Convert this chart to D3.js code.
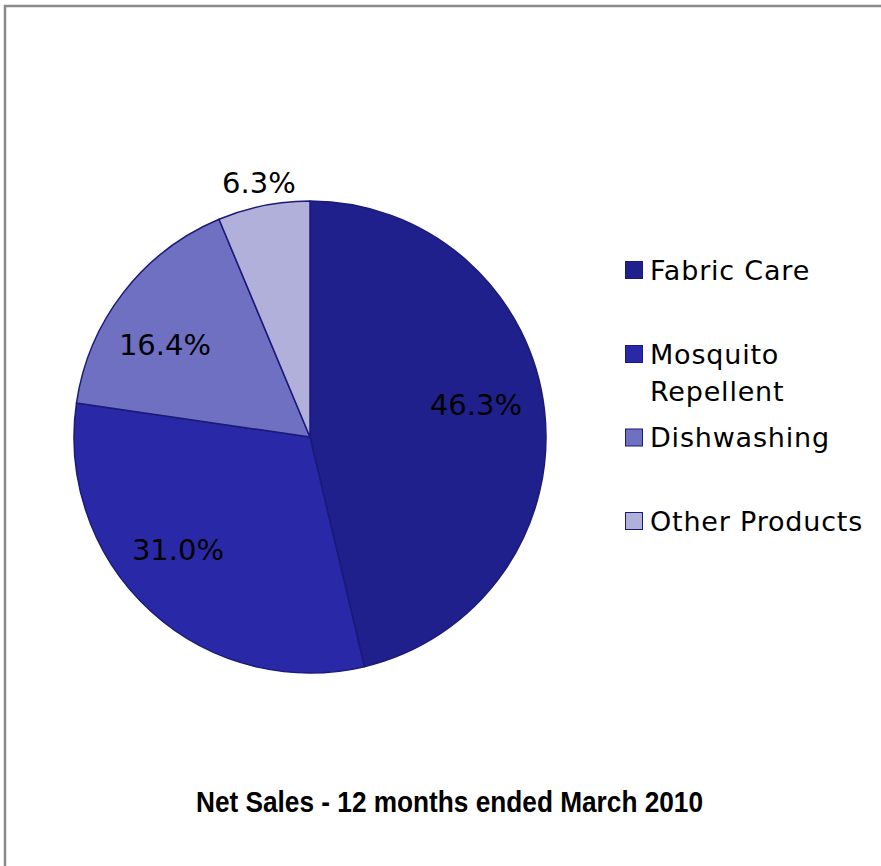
<!DOCTYPE html>
<html>
<head>
<meta charset="utf-8">
<script src="https://cdn.jsdelivr.net/npm/d3@7"></script>
<style>
  html, body { margin: 0; padding: 0; background: #fff; }
  svg { display: block; }
</style>
</head>
<body>
<svg id="chart" width="881" height="866"></svg>
<script>
// Net sales split by product category
const categories = ["Fabric Care", "Mosquito Repellent", "Dishwashing", "Other Products"];
const shares = [46.3, 31.0, 16.4, 6.3];
const legendLines = [["Fabric Care"], ["Mosquito", "Repellent"], ["Dishwashing"], ["Other Products"]];
const colors = ["#20208c", "#2929a8", "#7070c2", "#b0b0da"];
const title = "Net Sales - 12 months ended March 2010";

const svg = d3.select("#chart");

// frame
svg.append("path")
  .attr("d", "M5,866 V6 H881")
  .attr("fill", "none")
  .attr("stroke", "#8a8a8a")
  .attr("stroke-width", 2.5);

const cx = 310, cy = 437, r = 236;
const g = svg.append("g").attr("transform", `translate(${cx},${cy})`);

const data = categories.map((c, i) => ({ name: c, value: shares[i], color: colors[i] }));
const pie = d3.pie().value(d => d.value).sort(null);
const arc = d3.arc().innerRadius(0).outerRadius(r);
const arcs = pie(data);

g.selectAll("path.slice")
  .data(arcs)
  .join("path")
  .attr("class", "slice")
  .attr("d", arc)
  .attr("fill", d => d.data.color)
  .attr("stroke", "#1a1a78")
  .attr("stroke-width", 1.5)
  .attr("stroke-linejoin", "round");

// percentage labels: inside for large slices, outside for the smallest
const labelRadius = [0.716, 0.737, 0.728, 1.10];
const labelTurn = [-4.2, 6.9, -5.4, 0]; // degrees off the slice's mid angle
g.selectAll("text.pct")
  .data(arcs)
  .join("text")
  .attr("class", "pct")
  .attr("transform", (d, i) => {
    const a = (d.startAngle + d.endAngle) / 2 + labelTurn[i] * Math.PI / 180;
    const rr = r * labelRadius[i];
    return `translate(${Math.sin(a) * rr},${-Math.cos(a) * rr})`;
  })
  .attr("text-anchor", "middle")
  .attr("dy", "0.35em")
  .attr("font-family", "DejaVu Sans, sans-serif")
  .attr("font-size", 29)
  .attr("fill", "#000")
  .text(d => d.data.value.toFixed(1) + "%");

// legend
const legendY = [270, 354, 437.5, 521];
const legend = svg.append("g");
data.forEach((d, i) => {
  const y = legendY[i];
  legend.append("rect")
    .attr("x", 625.5).attr("y", y - 8.5)
    .attr("width", 17).attr("height", 17)
    .attr("fill", d.color)
    .attr("stroke", "#1a1a78")
    .attr("stroke-width", 1);
  legendLines[i].forEach((line, j) => {
    legend.append("text")
      .attr("x", 650)
      .attr("y", y + 9.5 + j * 37)
      .attr("font-family", "DejaVu Sans, sans-serif")
      .attr("font-size", 27)
      .attr("letter-spacing", 0.8)
      .attr("fill", "#000")
      .text(line);
  });
});

// title
svg.append("text")
  .attr("x", 449.5)
  .attr("y", 812)
  .attr("text-anchor", "middle")
  .attr("font-family", "Liberation Sans, Arial, sans-serif")
  .attr("font-weight", "bold")
  .attr("font-size", 29)
  .attr("textLength", 507)
  .attr("lengthAdjust", "spacingAndGlyphs")
  .attr("fill", "#000")
  .text(title);
</script>
</body>
</html>
